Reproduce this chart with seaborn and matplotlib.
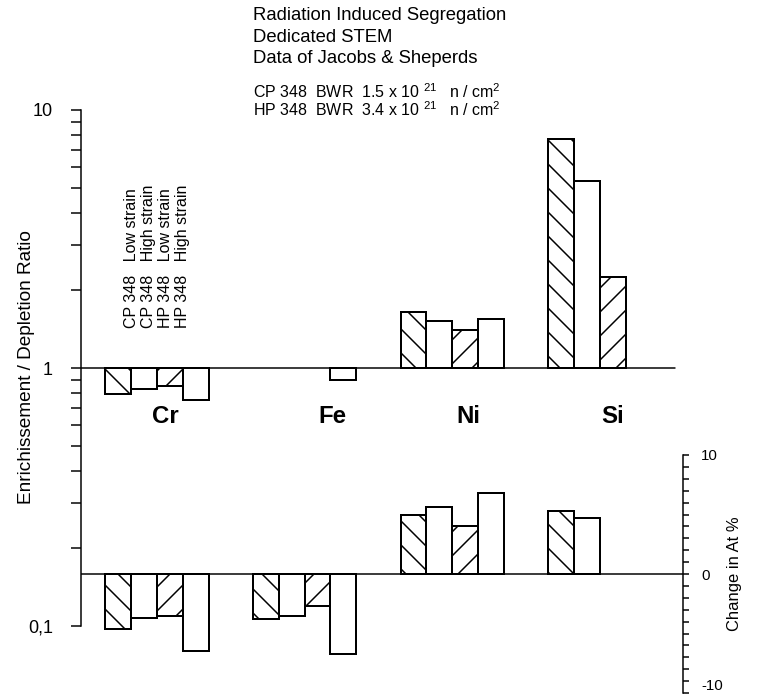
import numpy as np
import pandas as pd
import matplotlib
matplotlib.use("Agg")
import matplotlib.pyplot as plt
import seaborn as sns

# ---- data -------------------------------------------------------------
elements = ["Cr", "Fe", "Ni", "Si"]
samples = ["CP 348   Low strain", "CP 348   High strain",
           "HP 348   Low strain", "HP 348   High strain"]

# enrichment / depletion ratio (log scale, upper bars)
ratio_cp_low = [0.79, np.nan, 1.65, 7.7]
ratio_cp_high = [0.83, np.nan, 1.52, 5.3]
ratio_hp_low = [0.85, np.nan, 1.40, 2.25]
ratio_hp_high = [0.75, 0.90, 1.55, np.nan]

# change in at.% (lower bars, right axis)
change_cp_low = [-4.6, -3.8, 5.0, 5.3]
change_cp_high = [-3.7, -3.5, 5.6, 4.7]
change_hp_low = [-3.5, -2.7, 4.0, np.nan]
change_hp_high = [-6.5, -6.7, 6.8, np.nan]

ratio_ticks = [0.1, 1, 10]
ratio_tick_labels = ["0,1", "1", "10"]
change_ticks = [-10, 0, 10]
change_tick_labels = ["-10", "0", "10"]

title_lines = ["Radiation Induced Segregation", "Dedicated STEM",
               "Data of Jacobs & Sheperds"]
dose_lines = [r"CP 348  BWR  1.5 x 10 $^{21}$   n / cm$^{2}$",
              r"HP 348  BWR  3.4 x 10 $^{21}$   n / cm$^{2}$"]

# ---- tidy tables --------------------------------------------------------
def long_table(series, name):
    rows = []
    for s, vals in zip(samples, series):
        for el, v in zip(elements, vals):
            rows.append({"element": el, "sample": s, name: v})
    return pd.DataFrame(rows).dropna()

df_ratio = long_table([ratio_cp_low, ratio_cp_high, ratio_hp_low, ratio_hp_high], "ratio")
df_ratio["log_ratio"] = np.log10(df_ratio["ratio"])
df_change = long_table([change_cp_low, change_cp_high, change_hp_low, change_hp_high], "change")

# ---- style ----------------------------------------------------------------
sns.set_theme(style="white")
plt.rcParams["font.family"] = ["Liberation Sans", "DejaVu Sans"]
plt.rcParams["mathtext.default"] = "regular"
plt.rcParams["hatch.linewidth"] = 1.5
plt.rcParams["hatch.color"] = "black"

W, H = 759, 696
fig = plt.figure(figsize=(W / 72, H / 72), dpi=72)
fig.patch.set_facecolor("white")

# axes frame: top = ratio 10 (y=110 px), bottom = -10 at% (y=693 px)
ax = fig.add_axes([81 / W, 3 / H, 602 / W, 583 / H])
ax2 = ax.twinx()

hatches = ["\\", "", "/", ""]
bar_kw = dict(order=elements, hue_order=samples, palette=["white"] * 4,
              saturation=1, edgecolor="black", linewidth=2, width=0.7,
              errorbar=None, legend=False)

sns.barplot(data=df_ratio, x="element", y="log_ratio", hue="sample", ax=ax, **bar_kw)
sns.barplot(data=df_change, x="element", y="change", hue="sample", ax=ax2, **bar_kw)

for axis in (ax, ax2):
    for cont, h in zip(axis.containers, hatches):
        for bar in cont:
            bar.set_hatch(h)
            bar.set_zorder(3)

# baselines
ax.axhline(0, xmin=0, xmax=(675 - 81) / 602, color="black", lw=1.5, zorder=2)
ax2.axhline(0, color="black", lw=1.5, zorder=2)

# limits
ax.set_xlim(-0.515, 3.564)
ax.set_ylim(-1.259, 1.0)
ax2.set_ylim(-10, -10 + 583 / 11.9)

for axis in (ax, ax2):
    axis.set_xticks([])
    axis.set_xlabel("")
    axis.patch.set_visible(False)
    for sp in axis.spines.values():
        sp.set_visible(False)
        sp.set_color("black")
        sp.set_linewidth(1.5)

# left (log ratio) axis
ax.spines["left"].set_visible(True)
ax.spines["left"].set_bounds(-1, 1)
ax.set_yticks(np.log10(ratio_ticks), labels=ratio_tick_labels)
minor = [m * d for d in (0.1, 1) for m in range(2, 10)]
ax.set_yticks(np.log10(minor), minor=True)
ax.tick_params(axis="y", which="both", left=True, right=False, direction="out",
               length=10, width=1.5, color="black", pad=18, labelsize=18,
               labelcolor="black")
ax.set_ylabel("Enrichissement / Depletion Ratio", fontsize=19, color="black")
ax.yaxis.set_label_coords((35 - 81) / 602, (693 - 367) / 583)

# right (change in at.%) axis
ax2.spines["right"].set_visible(True)
ax2.spines["right"].set_bounds(-10, 10)
ax2.set_yticks(change_ticks, labels=change_tick_labels)
ax2.set_yticks([v for v in range(-10, 11) if v not in change_ticks], minor=True)
ax2.tick_params(axis="y", which="both", right=True, left=False, direction="out",
                length=6, width=1.5, color="black", pad=12, labelsize=15,
                labelcolor="black")
for lab in ax2.get_yticklabels():
    if lab.get_text() == "-10":
        lab.set_verticalalignment("bottom")
ax2.set_ylabel("Change in At %", fontsize=16.5, color="black")
ax2.yaxis.set_label_coords((727 - 81) / 602, (693 - 574) / 583)

# element names
label_shift = [0.06, 0.19, 0.11, 0.09]
for i, (el, dx) in enumerate(zip(elements, label_shift)):
    ax.text(i + dx, -0.186, el, ha="center", va="center", fontsize=24,
            fontweight="bold", color="black")

# sample key written vertically above the Cr group
for j, s in enumerate(samples):
    ax.text((j - 1.5) * 0.113, 0.155, s, rotation=90, ha="center", va="bottom",
            fontsize=16, color="black")

# heading
for line, base in zip(title_lines, [20, 41.5, 63]):
    fig.text(253 / W, 1 - base / H, line, ha="left", va="baseline",
             fontsize=18.5, color="black")
for line, base in zip(dose_lines, [97.5, 116]):
    fig.text(253 / W, 1 - base / H, line, ha="left", va="baseline",
             fontsize=16, color="black")

fig.savefig("out.png", dpi=72, facecolor="white")
